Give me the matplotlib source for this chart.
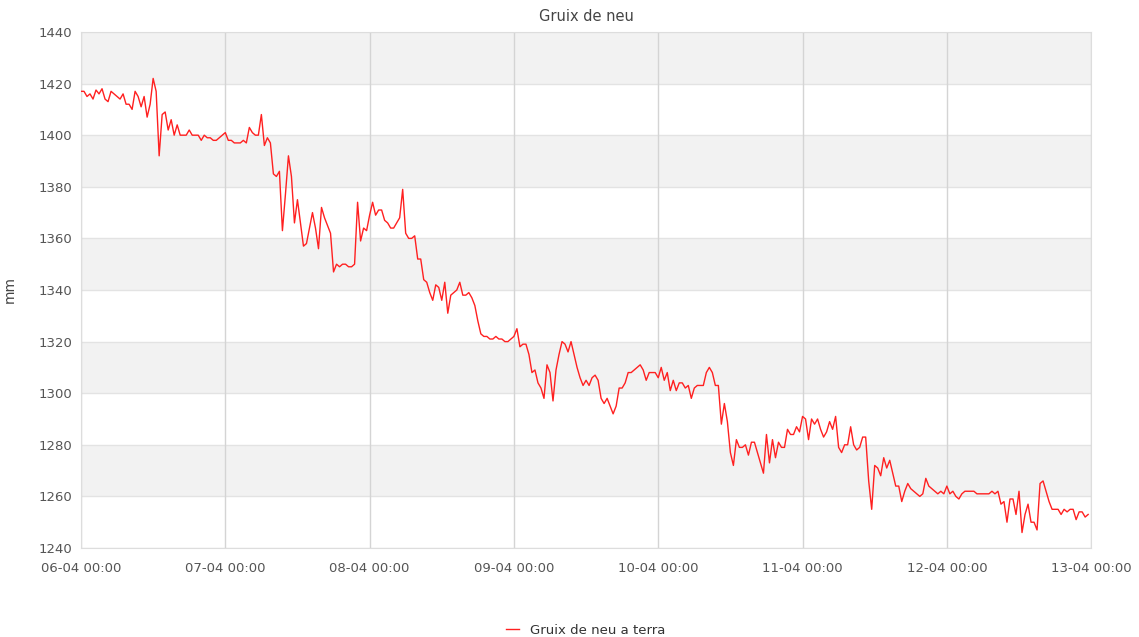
import numpy as np
import pandas as pd
import matplotlib
matplotlib.use('Agg')
import matplotlib.pyplot as plt
import matplotlib.dates as mdates

# snow depth (mm), one reading every 30 min starting 06-04 00:00
gruix = [
    1417, 1417, 1415, 1416, 1414, 1417.5, 1416, 1418, 1414, 1413,
    1417, 1416, 1415, 1414, 1416, 1412, 1412, 1410, 1417, 1415,
    1411, 1415, 1407, 1412, 1422, 1417, 1392, 1408, 1409, 1402,
    1406, 1400, 1404, 1400, 1400, 1400, 1402, 1400, 1400, 1400,
    1398, 1400, 1399, 1399, 1398, 1398, 1399, 1400, 1401, 1398,
    1398, 1397, 1397, 1397, 1398, 1397, 1403, 1401, 1400, 1400,
    1408, 1396, 1399, 1397, 1385, 1384, 1386, 1363, 1377, 1392,
    1384, 1366, 1375, 1366, 1357, 1358, 1364, 1370, 1364, 1356,
    1372, 1368, 1365, 1362, 1347, 1350, 1349, 1350, 1350, 1349,
    1349, 1350, 1374, 1359, 1364, 1363, 1369, 1374, 1369, 1371,
    1371, 1367, 1366, 1364, 1364, 1366, 1368, 1379, 1362, 1360,
    1360, 1361, 1352, 1352, 1344, 1343, 1339, 1336, 1342, 1341,
    1336, 1343, 1331, 1338, 1339, 1340, 1343, 1338, 1338, 1339,
    1337, 1334, 1328, 1323, 1322, 1322, 1321, 1321, 1322, 1321,
    1321, 1320, 1320, 1321, 1322, 1325, 1318, 1319, 1319, 1315,
    1308, 1309, 1304, 1302, 1298, 1311, 1308, 1297, 1309, 1315,
    1320, 1319, 1316, 1320, 1315, 1310, 1306, 1303, 1305, 1303,
    1306, 1307, 1305, 1298, 1296, 1298, 1295, 1292, 1295, 1302,
    1302, 1304, 1308, 1308, 1309, 1310, 1311, 1309, 1305, 1308,
    1308, 1308, 1306, 1310, 1305, 1308, 1301, 1305, 1301, 1304,
    1304, 1302, 1303, 1298, 1302, 1303, 1303, 1303, 1308, 1310,
    1308, 1303, 1303, 1288, 1296, 1289, 1277, 1272, 1282, 1279,
    1279, 1280, 1276, 1281, 1281, 1277, 1273, 1269, 1284, 1273,
    1282, 1275, 1281, 1279, 1279, 1286, 1284, 1284, 1287, 1285,
    1291, 1290, 1282, 1290, 1288, 1290, 1286, 1283, 1285, 1289,
    1286, 1291, 1279, 1277, 1280, 1280, 1287, 1280, 1278, 1279,
    1283, 1283, 1266, 1255, 1272, 1271, 1268, 1275, 1271, 1274,
    1269, 1264, 1264, 1258, 1262, 1265, 1263, 1262, 1261, 1260,
    1261, 1267, 1264, 1263, 1262, 1261, 1262, 1261, 1264, 1261,
    1262, 1260, 1259, 1261, 1262, 1262, 1262, 1262, 1261, 1261,
    1261, 1261, 1261, 1262, 1261, 1262, 1257, 1258, 1250, 1259,
    1259, 1253, 1262, 1246, 1253, 1257, 1250, 1250, 1247, 1265,
    1266, 1262, 1258, 1255, 1255, 1255, 1253, 1255, 1254, 1255,
    1255, 1251, 1254, 1254, 1252, 1253,
]
temps = pd.date_range('2023-04-06 00:00', periods=len(gruix), freq='30min')

y_ticks = [1240, 1260, 1280, 1300, 1320, 1340, 1360, 1380, 1400, 1420, 1440]
x_ticks = pd.date_range('2023-04-06', '2023-04-13', freq='D')

fig = plt.figure(figsize=(11.39, 6.37), dpi=100)
ax = fig.add_axes([0.0711, 0.1397, 0.8869, 0.8101])

# alternating grey bands
for k in range(len(y_ticks) - 1):
    if k % 2 == 1:
        ax.axhspan(y_ticks[k], y_ticks[k + 1], color='#f2f2f2', zorder=0, lw=0)

for yv in y_ticks:
    ax.axhline(yv, color='#e3e3e3', lw=1, zorder=1)
for xv in x_ticks:
    ax.axvline(xv, color='#d4d4d4', lw=1, zorder=1)

ax.plot(temps, gruix, color='#ff2020', lw=1, label='Gruix de neu a terra', zorder=3)

ax.set_ylim(1240, 1440)
ax.set_xlim(x_ticks[0], x_ticks[-1])
ax.set_yticks(y_ticks)
ax.set_xticks(x_ticks)
ax.xaxis.set_major_formatter(mdates.DateFormatter('%d-%m %H:%M'))
ax.tick_params(length=0, labelsize=9.5, labelcolor='#555555', pad=6)
ax.tick_params(axis='x', pad=10)
for s in ax.spines.values():
    s.set_color('#dddddd')

ax.set_ylabel('mm', fontsize=10, color='#444444')
ax.yaxis.set_label_coords(-0.064, 0.5)
ax.set_title('Gruix de neu', fontsize=10.5, color='#444444', pad=8)

fig.legend(loc='lower center', bbox_to_anchor=(0.514, -0.018), frameon=False,
           fontsize=9.5, handlelength=1.0, labelcolor='#333333')

plt.savefig('out.png', dpi=100)
